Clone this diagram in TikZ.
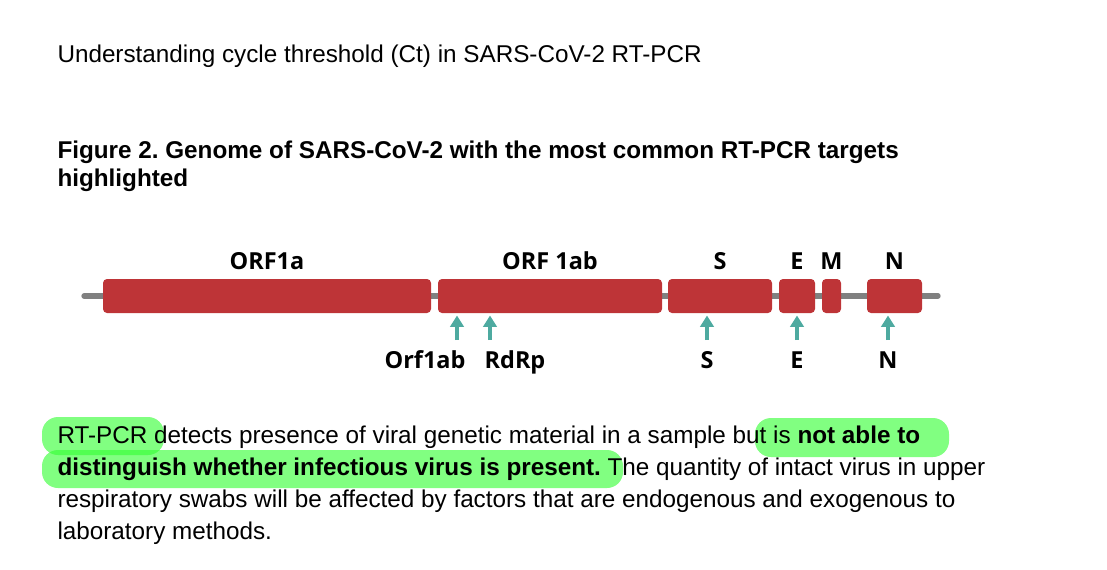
\documentclass[tikz,border=0pt]{standalone}
\usepackage{fontspec}
\setmainfont{Liberation Sans}
\newfontfamily\genefont{Open Sans}
\usetikzlibrary{arrows.meta}
\frenchspacing

\definecolor{genered}{RGB}{190,52,55}
\definecolor{spine}{RGB}{128,128,128}
\definecolor{probe}{RGB}{78,170,160}
\definecolor{marker}{RGB}{51,255,51}

\tikzset{every picture/.style={line width=0.75pt}}
\tikzset{
	gene/.style={fill=genered, rounded corners=3pt, inner sep=0pt, minimum height=25.5pt},
	genelab/.style={font=\genefont\bfseries\fontsize{17.6}{20}\selectfont, inner sep=0pt, anchor=base},
	target/.style={draw=probe, line width=2.6pt, -{Triangle[width=10pt,length=8.5pt]}, shorten >=1.5pt},
	body/.style={font=\fontsize{18.2}{22}\selectfont, inner sep=0pt, anchor=base west},
	head/.style={body, font=\bfseries\fontsize{18.2}{22}\selectfont},
	hilite/.style={fill=marker, fill opacity=0.62, rounded corners=12pt}
}

\begin{document}
\begin{tikzpicture}[x=0.75pt,y=0.75pt,yscale=-1,xscale=1]
	\useasboundingbox (0,0) rectangle (1107,569);

	% Text Node
	\node[body] (title) at (57,62) {Understanding cycle threshold (Ct) in SARS-CoV-2 RT-PCR};
	% Text Node
	\node[head] (cap1) at (57,158) {Figure 2. Genome of SARS-CoV-2 with the most common RT-PCR targets};
	\node[head] (cap2) at (57,186) {highlighted};

	%Straight Lines: genome backbone
	\draw [spine, line width=4pt, line cap=round] (84,296) -- (938,296) ;

	%Shapes: genes
	\node[gene, minimum width=246pt] (orf1a) at (267,296) {};
	\node[gene, minimum width=168pt] (orf1ab) at (550,296) {};
	\node[gene, minimum width=78pt] (sgene) at (720,296) {};
	\node[gene, minimum width=27pt] (egene) at (797,296) {};
	\node[gene, minimum width=14.25pt] (mgene) at (831.5,296) {};
	\node[gene, minimum width=41.25pt] (ngene) at (894.5,296) {};

	% Gene labels
	\node[genelab] (lorf1a) at ([yshift=-6.75pt]orf1a.north) {ORF1a};
	\node[genelab] (lorf1ab) at ([yshift=-6.75pt]orf1ab.north) {ORF 1ab};
	\node[genelab] (lsgene) at ([yshift=-6.75pt]sgene.north) {S};
	\node[genelab] (legene) at ([yshift=-6.75pt]egene.north) {E};
	\node[genelab] (lmgene) at ([yshift=-6.75pt]mgene.north) {M};
	\node[genelab] (lngene) at ([yshift=-6.75pt]ngene.north) {N};

	% Targets
	\coordinate (torf) at (457,340);
	\coordinate (trdrp) at (490,340);
	\coordinate (ts) at (707,340);
	\coordinate (te) at (797,340);
	\coordinate (tn) at (888,340);
	\draw[target] (torf) -- (torf |- orf1ab.south);
	\draw[target] (trdrp) -- (trdrp |- orf1ab.south);
	\draw[target] (ts) -- (ts |- sgene.south);
	\draw[target] (te) -- (te |- egene.south);
	\draw[target] (tn) -- (tn |- ngene.south);

	\node[genelab] (porf) at (425,368) {Orf1ab};
	\node[genelab] (prdrp) at (515,368) {RdRp};
	\node[genelab] (ps) at (707,368) {S};
	\node[genelab] (pe) at (797,368) {E};
	\node[genelab] (pn) at (888,368) {N};

	% Highlights
	\fill[hilite] (42,417) rectangle (164,455);
	\fill[hilite] (755,418) rectangle (949,457);
	\fill[hilite] (42,450) rectangle (623,488);

	% Text Node
	\node[body] (para1) at (57,443) {RT-PCR detects presence of viral genetic material in a sample but is \textbf{not able to}};
	\node[body] (para2) at (57,475) {\textbf{distinguish whether infectious virus is present.} The quantity of intact virus in upper};
	\node[body] (para3) at (57,507) {respiratory swabs will be affected by factors that are endogenous and exogenous to};
	\node[body] (para4) at (57,539) {laboratory methods.};
\end{tikzpicture}
\end{document}
